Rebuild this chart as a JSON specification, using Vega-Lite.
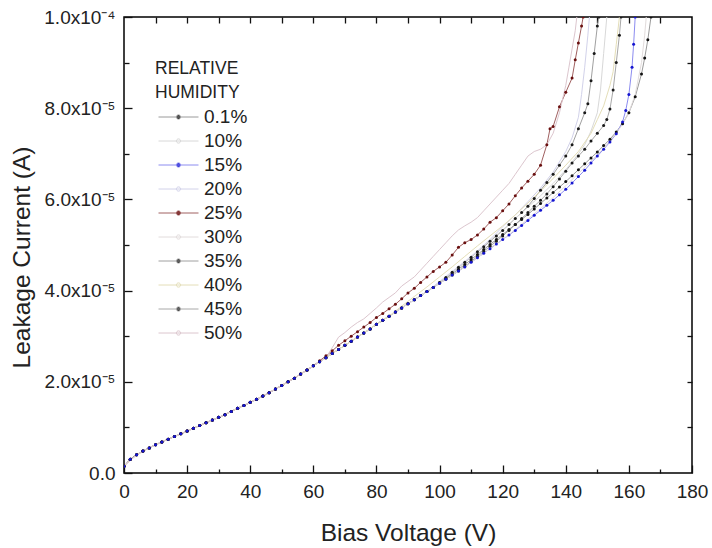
{
"$schema": "https://vega.github.io/schema/vega-lite/v6.json",
"width": 568, "height": 456,
"autosize": "none",
"padding": {"left": 124, "top": 17, "right": 20, "bottom": 75},
"config": {
 "font": "Liberation Sans",
 "view": {"stroke": "#000", "strokeWidth": 1.5},
 "axis": {"domain": false, "grid": false, "tickColor": "#111", "tickWidth": 1.3, "labelColor": "#222", "labelFont": "Liberation Sans", "titleFont": "Liberation Sans", "titleFontWeight": "normal", "titleColor": "#222", "labelFlush": false, "labelOverlap": false, "labelBound": false}
},
"datasets": {"d": [
{"h":"0.1%","v":0,"i":0.15e-5},{"h":"0.1%","v":2,"i":0.30e-5},{"h":"0.1%","v":4,"i":0.40e-5},{"h":"0.1%","v":6,"i":0.48e-5},{"h":"0.1%","v":8,"i":0.55e-5},{"h":"0.1%","v":10,"i":0.62e-5},{"h":"0.1%","v":12,"i":0.68e-5},{"h":"0.1%","v":14,"i":0.74e-5},{"h":"0.1%","v":16,"i":0.80e-5},{"h":"0.1%","v":18,"i":0.86e-5},{"h":"0.1%","v":20,"i":0.92e-5},{"h":"0.1%","v":22,"i":0.98e-5},{"h":"0.1%","v":24,"i":1.04e-5},{"h":"0.1%","v":26,"i":1.10e-5},{"h":"0.1%","v":28,"i":1.16e-5},{"h":"0.1%","v":30,"i":1.22e-5},{"h":"0.1%","v":32,"i":1.28e-5},{"h":"0.1%","v":34,"i":1.35e-5},{"h":"0.1%","v":36,"i":1.42e-5},{"h":"0.1%","v":38,"i":1.48e-5},{"h":"0.1%","v":40,"i":1.55e-5},{"h":"0.1%","v":42,"i":1.62e-5},{"h":"0.1%","v":44,"i":1.69e-5},{"h":"0.1%","v":46,"i":1.76e-5},{"h":"0.1%","v":48,"i":1.84e-5},{"h":"0.1%","v":50,"i":1.92e-5},{"h":"0.1%","v":52,"i":2.00e-5},{"h":"0.1%","v":54,"i":2.08e-5},{"h":"0.1%","v":56,"i":2.17e-5},{"h":"0.1%","v":58,"i":2.26e-5},{"h":"0.1%","v":60,"i":2.35e-5},{"h":"0.1%","v":62,"i":2.44e-5},{"h":"0.1%","v":64,"i":2.53e-5},{"h":"0.1%","v":66,"i":2.62e-5},{"h":"0.1%","v":68,"i":2.71e-5},{"h":"0.1%","v":70,"i":2.80e-5},{"h":"0.1%","v":72,"i":2.89e-5},{"h":"0.1%","v":74,"i":2.98e-5},{"h":"0.1%","v":76,"i":3.07e-5},{"h":"0.1%","v":78,"i":3.16e-5},{"h":"0.1%","v":80,"i":3.26e-5},{"h":"0.1%","v":82,"i":3.35e-5},{"h":"0.1%","v":84,"i":3.44e-5},{"h":"0.1%","v":86,"i":3.53e-5},{"h":"0.1%","v":88,"i":3.62e-5},{"h":"0.1%","v":90,"i":3.71e-5},{"h":"0.1%","v":92,"i":3.80e-5},{"h":"0.1%","v":94,"i":3.89e-5},{"h":"0.1%","v":96,"i":3.98e-5},{"h":"0.1%","v":98,"i":4.07e-5},{"h":"0.1%","v":100,"i":4.17e-5},{"h":"0.1%","v":102,"i":4.27e-5},{"h":"0.1%","v":104,"i":4.37e-5},{"h":"0.1%","v":106,"i":4.47e-5},{"h":"0.1%","v":108,"i":4.57e-5},{"h":"0.1%","v":110,"i":4.68e-5},{"h":"0.1%","v":112,"i":4.79e-5},{"h":"0.1%","v":114,"i":4.90e-5},{"h":"0.1%","v":116,"i":5.01e-5},{"h":"0.1%","v":118,"i":5.12e-5},{"h":"0.1%","v":120,"i":5.23e-5},{"h":"0.1%","v":122,"i":5.34e-5},{"h":"0.1%","v":124,"i":5.45e-5},{"h":"0.1%","v":126,"i":5.56e-5},{"h":"0.1%","v":128,"i":5.67e-5},{"h":"0.1%","v":130,"i":5.79e-5},{"h":"0.1%","v":132,"i":5.91e-5},{"h":"0.1%","v":134,"i":6.03e-5},{"h":"0.1%","v":136,"i":6.15e-5},{"h":"0.1%","v":138,"i":6.27e-5},{"h":"0.1%","v":140,"i":6.39e-5},{"h":"0.1%","v":142,"i":6.52e-5},{"h":"0.1%","v":144,"i":6.65e-5},{"h":"0.1%","v":146,"i":6.78e-5},{"h":"0.1%","v":148,"i":6.91e-5},{"h":"0.1%","v":150,"i":7.04e-5},{"h":"0.1%","v":152,"i":7.18e-5},{"h":"0.1%","v":154,"i":7.32e-5},{"h":"0.1%","v":156,"i":7.48e-5},{"h":"0.1%","v":158,"i":7.66e-5},{"h":"0.1%","v":160,"i":7.90e-5},{"h":"0.1%","v":162,"i":8.25e-5},{"h":"0.1%","v":164,"i":8.75e-5},{"h":"0.1%","v":165,"i":9.10e-5},{"h":"0.1%","v":166,"i":9.50e-5},{"h":"0.1%","v":167,"i":10.0e-5},
{"h":"15%","v":0,"i":0.15e-5},{"h":"15%","v":2,"i":0.30e-5},{"h":"15%","v":4,"i":0.40e-5},{"h":"15%","v":6,"i":0.48e-5},{"h":"15%","v":8,"i":0.55e-5},{"h":"15%","v":10,"i":0.62e-5},{"h":"15%","v":12,"i":0.68e-5},{"h":"15%","v":14,"i":0.74e-5},{"h":"15%","v":16,"i":0.80e-5},{"h":"15%","v":18,"i":0.86e-5},{"h":"15%","v":20,"i":0.92e-5},{"h":"15%","v":22,"i":0.98e-5},{"h":"15%","v":24,"i":1.04e-5},{"h":"15%","v":26,"i":1.10e-5},{"h":"15%","v":28,"i":1.16e-5},{"h":"15%","v":30,"i":1.22e-5},{"h":"15%","v":32,"i":1.28e-5},{"h":"15%","v":34,"i":1.35e-5},{"h":"15%","v":36,"i":1.42e-5},{"h":"15%","v":38,"i":1.48e-5},{"h":"15%","v":40,"i":1.55e-5},{"h":"15%","v":42,"i":1.62e-5},{"h":"15%","v":44,"i":1.69e-5},{"h":"15%","v":46,"i":1.76e-5},{"h":"15%","v":48,"i":1.84e-5},{"h":"15%","v":50,"i":1.92e-5},{"h":"15%","v":52,"i":2.00e-5},{"h":"15%","v":54,"i":2.08e-5},{"h":"15%","v":56,"i":2.17e-5},{"h":"15%","v":58,"i":2.26e-5},{"h":"15%","v":60,"i":2.35e-5},{"h":"15%","v":62,"i":2.44e-5},{"h":"15%","v":64,"i":2.53e-5},{"h":"15%","v":66,"i":2.62e-5},{"h":"15%","v":68,"i":2.71e-5},{"h":"15%","v":70,"i":2.80e-5},{"h":"15%","v":72,"i":2.89e-5},{"h":"15%","v":74,"i":2.98e-5},{"h":"15%","v":76,"i":3.07e-5},{"h":"15%","v":78,"i":3.16e-5},{"h":"15%","v":80,"i":3.26e-5},{"h":"15%","v":82,"i":3.35e-5},{"h":"15%","v":84,"i":3.44e-5},{"h":"15%","v":86,"i":3.53e-5},{"h":"15%","v":88,"i":3.62e-5},{"h":"15%","v":90,"i":3.71e-5},{"h":"15%","v":92,"i":3.80e-5},{"h":"15%","v":94,"i":3.89e-5},{"h":"15%","v":96,"i":3.98e-5},{"h":"15%","v":98,"i":4.07e-5},{"h":"15%","v":100,"i":4.16e-5},{"h":"15%","v":102,"i":4.25e-5},{"h":"15%","v":104,"i":4.34e-5},{"h":"15%","v":106,"i":4.43e-5},{"h":"15%","v":108,"i":4.52e-5},{"h":"15%","v":110,"i":4.62e-5},{"h":"15%","v":112,"i":4.72e-5},{"h":"15%","v":114,"i":4.82e-5},{"h":"15%","v":116,"i":4.92e-5},{"h":"15%","v":118,"i":5.02e-5},{"h":"15%","v":120,"i":5.12e-5},{"h":"15%","v":122,"i":5.22e-5},{"h":"15%","v":124,"i":5.32e-5},{"h":"15%","v":126,"i":5.43e-5},{"h":"15%","v":128,"i":5.54e-5},{"h":"15%","v":130,"i":5.65e-5},{"h":"15%","v":132,"i":5.76e-5},{"h":"15%","v":134,"i":5.87e-5},{"h":"15%","v":136,"i":5.98e-5},{"h":"15%","v":138,"i":6.10e-5},{"h":"15%","v":140,"i":6.22e-5},{"h":"15%","v":142,"i":6.36e-5},{"h":"15%","v":144,"i":6.50e-5},{"h":"15%","v":146,"i":6.64e-5},{"h":"15%","v":148,"i":6.80e-5},{"h":"15%","v":150,"i":6.95e-5},{"h":"15%","v":152,"i":7.10e-5},{"h":"15%","v":154,"i":7.26e-5},{"h":"15%","v":156,"i":7.44e-5},{"h":"15%","v":158,"i":7.70e-5},{"h":"15%","v":159,"i":7.95e-5},{"h":"15%","v":160,"i":8.30e-5},{"h":"15%","v":161,"i":8.90e-5},{"h":"15%","v":161.5,"i":9.40e-5},{"h":"15%","v":162,"i":10.0e-5},
{"h":"25%","v":0,"i":0.15e-5},{"h":"25%","v":2,"i":0.30e-5},{"h":"25%","v":4,"i":0.40e-5},{"h":"25%","v":6,"i":0.48e-5},{"h":"25%","v":8,"i":0.55e-5},{"h":"25%","v":10,"i":0.62e-5},{"h":"25%","v":12,"i":0.68e-5},{"h":"25%","v":14,"i":0.74e-5},{"h":"25%","v":16,"i":0.80e-5},{"h":"25%","v":18,"i":0.86e-5},{"h":"25%","v":20,"i":0.92e-5},{"h":"25%","v":22,"i":0.98e-5},{"h":"25%","v":24,"i":1.04e-5},{"h":"25%","v":26,"i":1.10e-5},{"h":"25%","v":28,"i":1.16e-5},{"h":"25%","v":30,"i":1.22e-5},{"h":"25%","v":32,"i":1.28e-5},{"h":"25%","v":34,"i":1.35e-5},{"h":"25%","v":36,"i":1.42e-5},{"h":"25%","v":38,"i":1.48e-5},{"h":"25%","v":40,"i":1.55e-5},{"h":"25%","v":42,"i":1.62e-5},{"h":"25%","v":44,"i":1.69e-5},{"h":"25%","v":46,"i":1.76e-5},{"h":"25%","v":48,"i":1.84e-5},{"h":"25%","v":50,"i":1.92e-5},{"h":"25%","v":52,"i":2.00e-5},{"h":"25%","v":54,"i":2.08e-5},{"h":"25%","v":56,"i":2.17e-5},{"h":"25%","v":58,"i":2.26e-5},{"h":"25%","v":60,"i":2.35e-5},{"h":"25%","v":62,"i":2.46e-5},{"h":"25%","v":64,"i":2.57e-5},{"h":"25%","v":66,"i":2.68e-5},{"h":"25%","v":68,"i":2.80e-5},{"h":"25%","v":70,"i":2.90e-5},{"h":"25%","v":72,"i":3.00e-5},{"h":"25%","v":74,"i":3.10e-5},{"h":"25%","v":76,"i":3.20e-5},{"h":"25%","v":78,"i":3.30e-5},{"h":"25%","v":80,"i":3.41e-5},{"h":"25%","v":82,"i":3.50e-5},{"h":"25%","v":84,"i":3.60e-5},{"h":"25%","v":86,"i":3.70e-5},{"h":"25%","v":88,"i":3.82e-5},{"h":"25%","v":90,"i":3.95e-5},{"h":"25%","v":92,"i":4.05e-5},{"h":"25%","v":94,"i":4.18e-5},{"h":"25%","v":96,"i":4.30e-5},{"h":"25%","v":98,"i":4.42e-5},{"h":"25%","v":100,"i":4.52e-5},{"h":"25%","v":102,"i":4.62e-5},{"h":"25%","v":104,"i":4.78e-5},{"h":"25%","v":106,"i":4.95e-5},{"h":"25%","v":108,"i":5.05e-5},{"h":"25%","v":110,"i":5.12e-5},{"h":"25%","v":112,"i":5.22e-5},{"h":"25%","v":114,"i":5.35e-5},{"h":"25%","v":116,"i":5.50e-5},{"h":"25%","v":118,"i":5.60e-5},{"h":"25%","v":120,"i":5.75e-5},{"h":"25%","v":122,"i":5.90e-5},{"h":"25%","v":124,"i":6.08e-5},{"h":"25%","v":126,"i":6.25e-5},{"h":"25%","v":128,"i":6.40e-5},{"h":"25%","v":130,"i":6.55e-5},{"h":"25%","v":132,"i":6.75e-5},{"h":"25%","v":134,"i":7.20e-5},{"h":"25%","v":135,"i":7.55e-5},{"h":"25%","v":136,"i":7.60e-5},{"h":"25%","v":138,"i":8.03e-5},{"h":"25%","v":140,"i":8.35e-5},{"h":"25%","v":142,"i":8.66e-5},{"h":"25%","v":143,"i":9.06e-5},{"h":"25%","v":144,"i":9.43e-5},{"h":"25%","v":145,"i":9.80e-5},{"h":"25%","v":145.5,"i":10.0e-5},
{"h":"35%","v":0,"i":0.15e-5},{"h":"35%","v":2,"i":0.30e-5},{"h":"35%","v":4,"i":0.40e-5},{"h":"35%","v":6,"i":0.48e-5},{"h":"35%","v":8,"i":0.55e-5},{"h":"35%","v":10,"i":0.62e-5},{"h":"35%","v":12,"i":0.68e-5},{"h":"35%","v":14,"i":0.74e-5},{"h":"35%","v":16,"i":0.80e-5},{"h":"35%","v":18,"i":0.86e-5},{"h":"35%","v":20,"i":0.92e-5},{"h":"35%","v":22,"i":0.98e-5},{"h":"35%","v":24,"i":1.04e-5},{"h":"35%","v":26,"i":1.10e-5},{"h":"35%","v":28,"i":1.16e-5},{"h":"35%","v":30,"i":1.22e-5},{"h":"35%","v":32,"i":1.28e-5},{"h":"35%","v":34,"i":1.35e-5},{"h":"35%","v":36,"i":1.42e-5},{"h":"35%","v":38,"i":1.48e-5},{"h":"35%","v":40,"i":1.55e-5},{"h":"35%","v":42,"i":1.62e-5},{"h":"35%","v":44,"i":1.69e-5},{"h":"35%","v":46,"i":1.76e-5},{"h":"35%","v":48,"i":1.84e-5},{"h":"35%","v":50,"i":1.92e-5},{"h":"35%","v":52,"i":2.00e-5},{"h":"35%","v":54,"i":2.08e-5},{"h":"35%","v":56,"i":2.17e-5},{"h":"35%","v":58,"i":2.26e-5},{"h":"35%","v":60,"i":2.35e-5},{"h":"35%","v":62,"i":2.44e-5},{"h":"35%","v":64,"i":2.53e-5},{"h":"35%","v":66,"i":2.62e-5},{"h":"35%","v":68,"i":2.71e-5},{"h":"35%","v":70,"i":2.80e-5},{"h":"35%","v":72,"i":2.89e-5},{"h":"35%","v":74,"i":2.98e-5},{"h":"35%","v":76,"i":3.07e-5},{"h":"35%","v":78,"i":3.16e-5},{"h":"35%","v":80,"i":3.26e-5},{"h":"35%","v":82,"i":3.35e-5},{"h":"35%","v":84,"i":3.44e-5},{"h":"35%","v":86,"i":3.53e-5},{"h":"35%","v":88,"i":3.62e-5},{"h":"35%","v":90,"i":3.71e-5},{"h":"35%","v":92,"i":3.80e-5},{"h":"35%","v":94,"i":3.89e-5},{"h":"35%","v":96,"i":3.98e-5},{"h":"35%","v":98,"i":4.07e-5},{"h":"35%","v":100,"i":4.18e-5},{"h":"35%","v":102,"i":4.29e-5},{"h":"35%","v":104,"i":4.40e-5},{"h":"35%","v":106,"i":4.51e-5},{"h":"35%","v":108,"i":4.62e-5},{"h":"35%","v":110,"i":4.73e-5},{"h":"35%","v":112,"i":4.85e-5},{"h":"35%","v":114,"i":4.96e-5},{"h":"35%","v":116,"i":5.08e-5},{"h":"35%","v":118,"i":5.20e-5},{"h":"35%","v":120,"i":5.32e-5},{"h":"35%","v":122,"i":5.45e-5},{"h":"35%","v":124,"i":5.58e-5},{"h":"35%","v":126,"i":5.71e-5},{"h":"35%","v":128,"i":5.85e-5},{"h":"35%","v":130,"i":6.02e-5},{"h":"35%","v":132,"i":6.20e-5},{"h":"35%","v":134,"i":6.37e-5},{"h":"35%","v":136,"i":6.55e-5},{"h":"35%","v":138,"i":6.75e-5},{"h":"35%","v":140,"i":6.95e-5},{"h":"35%","v":142,"i":7.20e-5},{"h":"35%","v":144,"i":7.55e-5},{"h":"35%","v":146,"i":7.90e-5},{"h":"35%","v":147,"i":8.10e-5},{"h":"35%","v":148,"i":8.60e-5},{"h":"35%","v":149,"i":9.20e-5},{"h":"35%","v":150,"i":9.80e-5},{"h":"35%","v":150.5,"i":10.0e-5},
{"h":"45%","v":0,"i":0.15e-5},{"h":"45%","v":2,"i":0.30e-5},{"h":"45%","v":4,"i":0.40e-5},{"h":"45%","v":6,"i":0.48e-5},{"h":"45%","v":8,"i":0.55e-5},{"h":"45%","v":10,"i":0.62e-5},{"h":"45%","v":12,"i":0.68e-5},{"h":"45%","v":14,"i":0.74e-5},{"h":"45%","v":16,"i":0.80e-5},{"h":"45%","v":18,"i":0.86e-5},{"h":"45%","v":20,"i":0.92e-5},{"h":"45%","v":22,"i":0.98e-5},{"h":"45%","v":24,"i":1.04e-5},{"h":"45%","v":26,"i":1.10e-5},{"h":"45%","v":28,"i":1.16e-5},{"h":"45%","v":30,"i":1.22e-5},{"h":"45%","v":32,"i":1.28e-5},{"h":"45%","v":34,"i":1.35e-5},{"h":"45%","v":36,"i":1.42e-5},{"h":"45%","v":38,"i":1.48e-5},{"h":"45%","v":40,"i":1.55e-5},{"h":"45%","v":42,"i":1.62e-5},{"h":"45%","v":44,"i":1.69e-5},{"h":"45%","v":46,"i":1.76e-5},{"h":"45%","v":48,"i":1.84e-5},{"h":"45%","v":50,"i":1.92e-5},{"h":"45%","v":52,"i":2.00e-5},{"h":"45%","v":54,"i":2.08e-5},{"h":"45%","v":56,"i":2.17e-5},{"h":"45%","v":58,"i":2.26e-5},{"h":"45%","v":60,"i":2.35e-5},{"h":"45%","v":62,"i":2.44e-5},{"h":"45%","v":64,"i":2.53e-5},{"h":"45%","v":66,"i":2.62e-5},{"h":"45%","v":68,"i":2.71e-5},{"h":"45%","v":70,"i":2.80e-5},{"h":"45%","v":72,"i":2.89e-5},{"h":"45%","v":74,"i":2.98e-5},{"h":"45%","v":76,"i":3.07e-5},{"h":"45%","v":78,"i":3.16e-5},{"h":"45%","v":80,"i":3.26e-5},{"h":"45%","v":82,"i":3.35e-5},{"h":"45%","v":84,"i":3.44e-5},{"h":"45%","v":86,"i":3.53e-5},{"h":"45%","v":88,"i":3.62e-5},{"h":"45%","v":90,"i":3.71e-5},{"h":"45%","v":92,"i":3.80e-5},{"h":"45%","v":94,"i":3.89e-5},{"h":"45%","v":96,"i":3.98e-5},{"h":"45%","v":98,"i":4.07e-5},{"h":"45%","v":100,"i":4.16e-5},{"h":"45%","v":102,"i":4.25e-5},{"h":"45%","v":104,"i":4.34e-5},{"h":"45%","v":106,"i":4.43e-5},{"h":"45%","v":108,"i":4.53e-5},{"h":"45%","v":110,"i":4.64e-5},{"h":"45%","v":112,"i":4.75e-5},{"h":"45%","v":114,"i":4.86e-5},{"h":"45%","v":116,"i":4.97e-5},{"h":"45%","v":118,"i":5.08e-5},{"h":"45%","v":120,"i":5.20e-5},{"h":"45%","v":122,"i":5.32e-5},{"h":"45%","v":124,"i":5.45e-5},{"h":"45%","v":126,"i":5.58e-5},{"h":"45%","v":128,"i":5.71e-5},{"h":"45%","v":130,"i":5.85e-5},{"h":"45%","v":132,"i":5.98e-5},{"h":"45%","v":134,"i":6.12e-5},{"h":"45%","v":136,"i":6.28e-5},{"h":"45%","v":138,"i":6.45e-5},{"h":"45%","v":140,"i":6.62e-5},{"h":"45%","v":142,"i":6.80e-5},{"h":"45%","v":144,"i":6.95e-5},{"h":"45%","v":146,"i":7.10e-5},{"h":"45%","v":148,"i":7.28e-5},{"h":"45%","v":150,"i":7.45e-5},{"h":"45%","v":152,"i":7.62e-5},{"h":"45%","v":153,"i":7.75e-5},{"h":"45%","v":154,"i":7.98e-5},{"h":"45%","v":155,"i":8.40e-5},{"h":"45%","v":156,"i":9.00e-5},{"h":"45%","v":157,"i":9.60e-5},{"h":"45%","v":157.5,"i":10.0e-5},
{"h":"10%","v":0,"i":0.15e-5},{"h":"10%","v":4,"i":0.40e-5},{"h":"10%","v":8,"i":0.55e-5},{"h":"10%","v":12,"i":0.68e-5},{"h":"10%","v":16,"i":0.80e-5},{"h":"10%","v":20,"i":0.92e-5},{"h":"10%","v":24,"i":1.04e-5},{"h":"10%","v":28,"i":1.16e-5},{"h":"10%","v":32,"i":1.28e-5},{"h":"10%","v":36,"i":1.42e-5},{"h":"10%","v":40,"i":1.55e-5},{"h":"10%","v":44,"i":1.69e-5},{"h":"10%","v":48,"i":1.84e-5},{"h":"10%","v":52,"i":2.00e-5},{"h":"10%","v":56,"i":2.17e-5},{"h":"10%","v":60,"i":2.35e-5},{"h":"10%","v":64,"i":2.53e-5},{"h":"10%","v":68,"i":2.71e-5},{"h":"10%","v":72,"i":2.89e-5},{"h":"10%","v":76,"i":3.07e-5},{"h":"10%","v":80,"i":3.26e-5},{"h":"10%","v":84,"i":3.44e-5},{"h":"10%","v":88,"i":3.62e-5},{"h":"10%","v":92,"i":3.80e-5},{"h":"10%","v":96,"i":3.98e-5},{"h":"10%","v":100,"i":4.18e-5},{"h":"10%","v":104,"i":4.40e-5},{"h":"10%","v":108,"i":4.62e-5},{"h":"10%","v":112,"i":4.85e-5},{"h":"10%","v":116,"i":5.10e-5},{"h":"10%","v":120,"i":5.33e-5},{"h":"10%","v":124,"i":5.58e-5},{"h":"10%","v":128,"i":5.83e-5},{"h":"10%","v":132,"i":6.08e-5},{"h":"10%","v":136,"i":6.35e-5},{"h":"10%","v":140,"i":6.65e-5},{"h":"10%","v":144,"i":7.00e-5},{"h":"10%","v":146,"i":7.20e-5},{"h":"10%","v":148,"i":7.50e-5},{"h":"10%","v":150,"i":7.90e-5},{"h":"10%","v":151,"i":8.40e-5},{"h":"10%","v":152,"i":9.20e-5},{"h":"10%","v":153,"i":10.0e-5},
{"h":"20%","v":0,"i":0.15e-5},{"h":"20%","v":4,"i":0.40e-5},{"h":"20%","v":8,"i":0.55e-5},{"h":"20%","v":12,"i":0.68e-5},{"h":"20%","v":16,"i":0.80e-5},{"h":"20%","v":20,"i":0.92e-5},{"h":"20%","v":24,"i":1.04e-5},{"h":"20%","v":28,"i":1.16e-5},{"h":"20%","v":32,"i":1.28e-5},{"h":"20%","v":36,"i":1.42e-5},{"h":"20%","v":40,"i":1.55e-5},{"h":"20%","v":44,"i":1.69e-5},{"h":"20%","v":48,"i":1.84e-5},{"h":"20%","v":52,"i":2.00e-5},{"h":"20%","v":56,"i":2.17e-5},{"h":"20%","v":60,"i":2.35e-5},{"h":"20%","v":64,"i":2.53e-5},{"h":"20%","v":68,"i":2.71e-5},{"h":"20%","v":72,"i":2.89e-5},{"h":"20%","v":76,"i":3.07e-5},{"h":"20%","v":80,"i":3.26e-5},{"h":"20%","v":84,"i":3.44e-5},{"h":"20%","v":88,"i":3.62e-5},{"h":"20%","v":92,"i":3.80e-5},{"h":"20%","v":96,"i":3.98e-5},{"h":"20%","v":100,"i":4.20e-5},{"h":"20%","v":104,"i":4.42e-5},{"h":"20%","v":108,"i":4.64e-5},{"h":"20%","v":112,"i":4.87e-5},{"h":"20%","v":116,"i":5.12e-5},{"h":"20%","v":120,"i":5.40e-5},{"h":"20%","v":124,"i":5.66e-5},{"h":"20%","v":128,"i":5.95e-5},{"h":"20%","v":132,"i":6.25e-5},{"h":"20%","v":136,"i":6.60e-5},{"h":"20%","v":140,"i":7.05e-5},{"h":"20%","v":142,"i":7.35e-5},{"h":"20%","v":144,"i":7.80e-5},{"h":"20%","v":145,"i":8.30e-5},{"h":"20%","v":146,"i":8.90e-5},{"h":"20%","v":147,"i":9.60e-5},{"h":"20%","v":147.5,"i":10.0e-5},
{"h":"30%","v":0,"i":0.15e-5},{"h":"30%","v":4,"i":0.40e-5},{"h":"30%","v":8,"i":0.55e-5},{"h":"30%","v":12,"i":0.68e-5},{"h":"30%","v":16,"i":0.80e-5},{"h":"30%","v":20,"i":0.92e-5},{"h":"30%","v":24,"i":1.04e-5},{"h":"30%","v":28,"i":1.16e-5},{"h":"30%","v":32,"i":1.28e-5},{"h":"30%","v":36,"i":1.42e-5},{"h":"30%","v":40,"i":1.55e-5},{"h":"30%","v":44,"i":1.69e-5},{"h":"30%","v":48,"i":1.84e-5},{"h":"30%","v":52,"i":2.00e-5},{"h":"30%","v":56,"i":2.17e-5},{"h":"30%","v":60,"i":2.35e-5},{"h":"30%","v":64,"i":2.53e-5},{"h":"30%","v":68,"i":2.71e-5},{"h":"30%","v":72,"i":2.89e-5},{"h":"30%","v":76,"i":3.07e-5},{"h":"30%","v":80,"i":3.26e-5},{"h":"30%","v":84,"i":3.44e-5},{"h":"30%","v":88,"i":3.62e-5},{"h":"30%","v":92,"i":3.80e-5},{"h":"30%","v":96,"i":3.98e-5},{"h":"30%","v":100,"i":4.16e-5},{"h":"30%","v":104,"i":4.34e-5},{"h":"30%","v":108,"i":4.52e-5},{"h":"30%","v":112,"i":4.72e-5},{"h":"30%","v":116,"i":4.92e-5},{"h":"30%","v":120,"i":5.12e-5},{"h":"30%","v":124,"i":5.34e-5},{"h":"30%","v":128,"i":5.57e-5},{"h":"30%","v":132,"i":5.80e-5},{"h":"30%","v":136,"i":6.04e-5},{"h":"30%","v":140,"i":6.30e-5},{"h":"30%","v":144,"i":6.57e-5},{"h":"30%","v":148,"i":6.84e-5},{"h":"30%","v":152,"i":7.12e-5},{"h":"30%","v":156,"i":7.45e-5},{"h":"30%","v":158,"i":7.65e-5},{"h":"30%","v":160,"i":7.90e-5},{"h":"30%","v":162,"i":8.30e-5},{"h":"30%","v":164,"i":9.00e-5},{"h":"30%","v":165,"i":9.60e-5},{"h":"30%","v":165.5,"i":10.0e-5},
{"h":"40%","v":0,"i":0.15e-5},{"h":"40%","v":4,"i":0.40e-5},{"h":"40%","v":8,"i":0.55e-5},{"h":"40%","v":12,"i":0.68e-5},{"h":"40%","v":16,"i":0.80e-5},{"h":"40%","v":20,"i":0.92e-5},{"h":"40%","v":24,"i":1.04e-5},{"h":"40%","v":28,"i":1.16e-5},{"h":"40%","v":32,"i":1.28e-5},{"h":"40%","v":36,"i":1.42e-5},{"h":"40%","v":40,"i":1.55e-5},{"h":"40%","v":44,"i":1.69e-5},{"h":"40%","v":48,"i":1.84e-5},{"h":"40%","v":52,"i":2.00e-5},{"h":"40%","v":56,"i":2.17e-5},{"h":"40%","v":60,"i":2.35e-5},{"h":"40%","v":64,"i":2.53e-5},{"h":"40%","v":68,"i":2.71e-5},{"h":"40%","v":72,"i":2.89e-5},{"h":"40%","v":76,"i":3.07e-5},{"h":"40%","v":80,"i":3.26e-5},{"h":"40%","v":84,"i":3.44e-5},{"h":"40%","v":88,"i":3.66e-5},{"h":"40%","v":92,"i":3.87e-5},{"h":"40%","v":96,"i":4.08e-5},{"h":"40%","v":100,"i":4.30e-5},{"h":"40%","v":104,"i":4.52e-5},{"h":"40%","v":108,"i":4.75e-5},{"h":"40%","v":112,"i":4.98e-5},{"h":"40%","v":116,"i":5.20e-5},{"h":"40%","v":120,"i":5.42e-5},{"h":"40%","v":124,"i":5.66e-5},{"h":"40%","v":128,"i":5.92e-5},{"h":"40%","v":132,"i":6.18e-5},{"h":"40%","v":136,"i":6.46e-5},{"h":"40%","v":140,"i":6.75e-5},{"h":"40%","v":144,"i":7.05e-5},{"h":"40%","v":148,"i":7.45e-5},{"h":"40%","v":150,"i":7.75e-5},{"h":"40%","v":152,"i":8.05e-5},{"h":"40%","v":154,"i":8.50e-5},{"h":"40%","v":155,"i":8.80e-5},{"h":"40%","v":156,"i":9.40e-5},{"h":"40%","v":157,"i":10.0e-5},
{"h":"50%","v":0,"i":0.15e-5},{"h":"50%","v":4,"i":0.40e-5},{"h":"50%","v":8,"i":0.55e-5},{"h":"50%","v":12,"i":0.68e-5},{"h":"50%","v":16,"i":0.80e-5},{"h":"50%","v":20,"i":0.92e-5},{"h":"50%","v":24,"i":1.04e-5},{"h":"50%","v":28,"i":1.16e-5},{"h":"50%","v":32,"i":1.28e-5},{"h":"50%","v":36,"i":1.42e-5},{"h":"50%","v":40,"i":1.55e-5},{"h":"50%","v":44,"i":1.69e-5},{"h":"50%","v":48,"i":1.84e-5},{"h":"50%","v":52,"i":2.00e-5},{"h":"50%","v":56,"i":2.17e-5},{"h":"50%","v":60,"i":2.35e-5},{"h":"50%","v":64,"i":2.53e-5},{"h":"50%","v":66,"i":2.75e-5},{"h":"50%","v":68,"i":2.98e-5},{"h":"50%","v":70,"i":3.08e-5},{"h":"50%","v":72,"i":3.20e-5},{"h":"50%","v":74,"i":3.30e-5},{"h":"50%","v":76,"i":3.38e-5},{"h":"50%","v":78,"i":3.50e-5},{"h":"50%","v":80,"i":3.62e-5},{"h":"50%","v":82,"i":3.75e-5},{"h":"50%","v":84,"i":3.85e-5},{"h":"50%","v":86,"i":3.95e-5},{"h":"50%","v":88,"i":4.10e-5},{"h":"50%","v":90,"i":4.20e-5},{"h":"50%","v":92,"i":4.30e-5},{"h":"50%","v":94,"i":4.45e-5},{"h":"50%","v":96,"i":4.60e-5},{"h":"50%","v":98,"i":4.75e-5},{"h":"50%","v":100,"i":4.90e-5},{"h":"50%","v":102,"i":5.05e-5},{"h":"50%","v":104,"i":5.20e-5},{"h":"50%","v":106,"i":5.33e-5},{"h":"50%","v":108,"i":5.42e-5},{"h":"50%","v":110,"i":5.50e-5},{"h":"50%","v":112,"i":5.60e-5},{"h":"50%","v":114,"i":5.75e-5},{"h":"50%","v":116,"i":5.90e-5},{"h":"50%","v":118,"i":6.05e-5},{"h":"50%","v":120,"i":6.20e-5},{"h":"50%","v":122,"i":6.35e-5},{"h":"50%","v":124,"i":6.55e-5},{"h":"50%","v":126,"i":6.75e-5},{"h":"50%","v":128,"i":6.95e-5},{"h":"50%","v":130,"i":7.05e-5},{"h":"50%","v":132,"i":7.10e-5},{"h":"50%","v":134,"i":7.20e-5},{"h":"50%","v":136,"i":7.45e-5},{"h":"50%","v":138,"i":7.90e-5},{"h":"50%","v":140,"i":8.50e-5},{"h":"50%","v":141,"i":8.90e-5},{"h":"50%","v":142,"i":9.30e-5},{"h":"50%","v":143,"i":9.70e-5},{"h":"50%","v":143.5,"i":10.0e-5}
]},
"data": {"name": "d"},
"resolve": {"axis": {"x": "independent", "y": "independent"}},
"layer": [
 {
  "mark": {"type": "line", "strokeWidth": 1, "clip": true},
  "encoding": {
   "x": {"field": "v", "type": "quantitative", "scale": {"domain": [0, 180], "nice": false},
     "axis": {"orient": "bottom", "values": [0,20,40,60,80,100,120,140,160,180], "tickSize": -8, "labelPadding": 17, "labelFontSize": 19, "title": "Bias Voltage (V)", "titleFontSize": 24.5, "titlePadding": 20}},
   "y": {"field": "i", "type": "quantitative", "scale": {"domain": [0, 0.0001], "nice": false},
     "axis": {"orient": "left", "values": [0,0.00002,0.00004,0.00006,0.00008,0.0001], "tickSize": -8, "labelPadding": 17, "labelFontSize": 19, "labelExpr": "datum.value == 0 ? '0.0' : (datum.value > 0.000099 ? '1.0x10⁻⁴' : format(datum.value*100000, '.1f') + 'x10⁻⁵')", "title": "Leakage Current (A)", "titleFontSize": 24.5, "titlePadding": 9, "titleY": 240}},
   "stroke": {"field": "h", "type": "nominal",
     "scale": {"domain": ["0.1%","10%","15%","20%","25%","30%","35%","40%","45%","50%"], "range": ["#9a9a9a","#d8d8d8","#8c8cf0","#d2d2ea","#a06060","#e2dcdc","#a0a0a0","#e4deb8","#a8a8a8","#dcc6ce"]},
     "legend": {"title": ["RELATIVE","HUMIDITY"], "orient": "none", "legendX": 31, "legendY": 43, "titleFontSize": 17.5, "titleFontWeight": "normal", "titleColor": "#222", "titleLineHeight": 24, "titlePadding": 6, "labelFontSize": 19, "labelColor": "#222", "labelOffset": 16, "symbolOffset": 14, "rowPadding": 4, "symbolType": "M-4,0L4,0M-0.42,0A0.42,0.42 0 1,0 0.42,0A0.42,0.42 0 1,0 -0.42,0Z", "symbolSize": 100, "symbolStrokeWidth": 1}}
  }
 },
 {
  "transform": [{"filter": {"field": "h", "oneOf": ["0.1%","25%","35%","45%"]}}],
  "mark": {"type": "point", "filled": true, "size": 9, "opacity": 1, "clip": true},
  "encoding": {
   "x": {"field": "v", "type": "quantitative", "axis": {"orient": "bottom", "values": [10,30,50,70,90,110,130,150,170], "tickSize": -4, "labels": false, "title": null}},
   "y": {"field": "i", "type": "quantitative", "axis": {"orient": "left", "values": [0.00001,0.00003,0.00005,0.00007,0.00009], "tickSize": -5, "labels": false, "title": null}},
   "fill": {"field": "h", "type": "nominal",
     "scale": {"domain": ["0.1%","10%","15%","20%","25%","30%","35%","40%","45%","50%"], "range": ["#111111","transparent","#1515d0","transparent","#6a1010","transparent","#1a1a1a","transparent","#1a1a1a","transparent"]},
     "legend": {"title": ["RELATIVE","HUMIDITY"], "orient": "none", "legendX": 31, "legendY": 43}}
  }
 },
 {
  "transform": [{"filter": {"field": "h", "equal": "15%"}}],
  "mark": {"type": "point", "filled": true, "size": 9, "opacity": 1, "clip": true},
  "encoding": {
   "x": {"field": "v", "type": "quantitative", "axis": {"orient": "top", "values": [10,20,30,40,50,60,70,80,90,100,110,120,130,140,150,160,170], "tickSize": -6, "labels": false, "title": null}},
   "y": {"field": "i", "type": "quantitative", "axis": {"orient": "right", "values": [0.00001,0.00002,0.00003,0.00004,0.00005,0.00006,0.00007,0.00008,0.00009], "tickSize": -5, "labels": false, "title": null}},
   "fill": {"field": "h", "type": "nominal", "legend": {"title": ["RELATIVE","HUMIDITY"], "orient": "none", "legendX": 31, "legendY": 43}}
  }
 }
]
}
